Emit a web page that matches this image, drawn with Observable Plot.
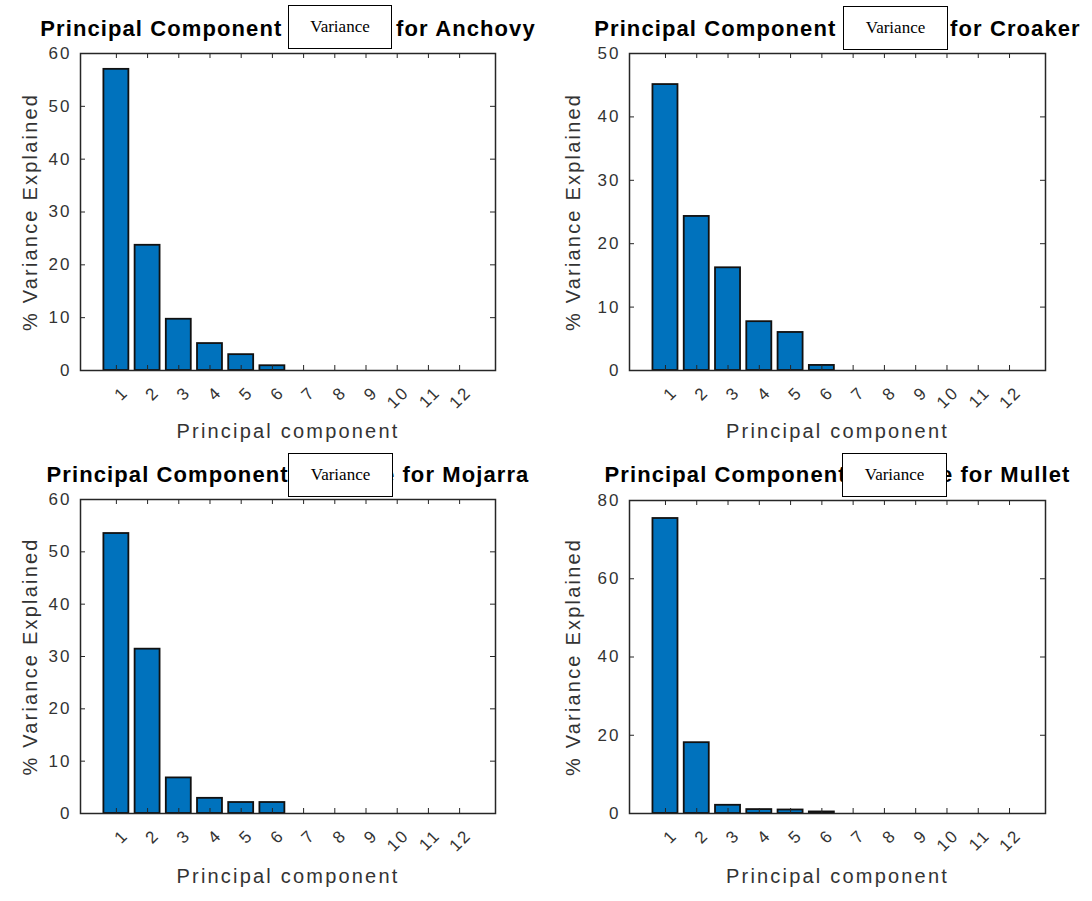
<!DOCTYPE html>
<html>
<head>
<meta charset="utf-8">
<script src="https://cdn.jsdelivr.net/npm/d3@7"></script>
<script src="https://cdn.jsdelivr.net/npm/@observablehq/plot@0.6"></script>
<style>
  html, body { margin: 0; padding: 0; background: #fff; }
  #wrap { position: relative; width: 1092px; height: 901px; overflow: hidden; background: #fff; }
  .panel { position: absolute; }
  .vbox { position: absolute; background: #fff; border: 1px solid #000; box-sizing: border-box;
          font-family: "Liberation Serif", "Times New Roman", serif; font-size: 17px; color: #000;
          display: flex; align-items: center; justify-content: center; }
  g[aria-label="x-axis tick label"] text, g[aria-label="y-axis tick label"] text { letter-spacing: 2px; }
</style>
</head>
<body>
<div id="wrap"></div>
<script>
// ---- data ----
const components = [1, 2, 3, 4, 5, 6, 7, 8, 9, 10, 11, 12];
const species = ["Anchovy", "Croaker", "Mojarra", "Mullet"];
const anchovy = [57.0, 23.7, 9.7, 5.1, 3.0, 0.9, 0, 0, 0, 0, 0, 0];
const croaker = [45.1, 24.3, 16.2, 7.7, 6.0, 0.8, 0, 0, 0, 0, 0, 0];
const mojarra = [53.5, 31.4, 6.8, 2.9, 2.1, 2.1, 0, 0, 0, 0, 0, 0];
const mullet  = [75.4, 18.1, 2.1, 1.0, 0.9, 0.4, 0, 0, 0, 0, 0, 0];
const yTicksAnchovy = [0, 10, 20, 30, 40, 50, 60];
const yTicksCroaker = [0, 10, 20, 30, 40, 50];
const yTicksMojarra = [0, 10, 20, 30, 40, 50, 60];
const yTicksMullet  = [0, 20, 40, 60, 80];
const titlePrefix = "Principal Component Variance for ";
const boxText = "Variance";
const yLabel = "% Variance Explained";
const xLabel = "Principal component";

// ---- layout ----
const panels = [
  {name: species[0], values: anchovy, yTicks: yTicksAnchovy, left: 0,   top: 0,   w: 546, h: 450, mL: 80, mR: 51, mT: 53, mB: 80, titleDy: -33, yDx: -50, xDy: 67, box: [288, 5, 104, 44]},
  {name: species[1], values: croaker, yTicks: yTicksCroaker, left: 546, top: 0,   w: 546, h: 450, mL: 83, mR: 47, mT: 53, mB: 80, titleDy: -33, yDx: -56, xDy: 67, box: [843, 6, 105, 44]},
  {name: species[2], values: mojarra, yTicks: yTicksMojarra, left: 0,   top: 450, w: 546, h: 451, mL: 80, mR: 51, mT: 49, mB: 88, titleDy: -33, yDx: -50, xDy: 69, box: [288, 453, 105, 44]},
  {name: species[3], values: mullet,  yTicks: yTicksMullet,  left: 546, top: 450, w: 546, h: 451, mL: 83, mR: 47, mT: 50, mB: 88, titleDy: -34, yDx: -56, xDy: 69, box: [842, 453, 105, 44]}
];

const wrap = document.getElementById("wrap");
const ink = "#262626";

for (const p of panels) {
  const data = components.map((c, i) => ({pc: c, v: p.values[i]}));
  const innerW = p.w - p.mL - p.mR;
  const innerH = p.h - p.mT - p.mB;
  const ymax = p.yTicks[p.yTicks.length - 1];
  const svg = Plot.plot({
    width: p.w, height: p.h,
    marginLeft: p.mL, marginRight: p.mR, marginTop: p.mT, marginBottom: p.mB,
    style: {fontFamily: "'Liberation Sans', Arial, Helvetica, sans-serif", fontSize: "17px", color: "#333", background: "#fff"},
    x: {type: "linear", domain: [-0.15, 13.15]},
    y: {type: "linear", domain: [0, ymax]},
    marks: [
      Plot.rectY(data, {x1: d => d.pc - 0.4, x2: d => d.pc + 0.4, y1: 0, y2: "v", fill: "#0072BD", stroke: "#111", strokeWidth: 1.8}),
      Plot.tickX(components, {x: d => d, insetTop: innerH - 5, stroke: ink}),
      Plot.tickX(components, {x: d => d, insetBottom: innerH - 5, stroke: ink}),
      Plot.tickY(p.yTicks, {y: d => d, insetRight: innerW - 5, stroke: ink}),
      Plot.tickY(p.yTicks, {y: d => d, insetLeft: innerW - 5, stroke: ink}),
      Plot.frame({stroke: ink, strokeWidth: 1.5}),
      Plot.axisY({ticks: p.yTicks, tickSize: 0, tickPadding: 9, fontSize: 17, label: null, tickFormat: d => String(d)}),
      Plot.axisX({ticks: components, tickSize: 0, tickPadding: 19, tickRotate: -45, dx: 9, fontSize: 17, label: null, tickFormat: d => String(d)}),
      Plot.text([titlePrefix + p.name], {text: d => d, frameAnchor: "top", textAnchor: "middle", dy: p.titleDy, fontSize: 22, fontWeight: "bold", fill: "#000"}),
      Plot.text([yLabel], {text: d => d, frameAnchor: "left", textAnchor: "middle", rotate: -90, dx: p.yDx, fontSize: 20, fill: "#333"}),
      Plot.text([xLabel], {text: d => d, frameAnchor: "bottom", textAnchor: "middle", dy: p.xDy, fontSize: 20, fill: "#333"})
    ]
  });
  // letter spacing to mimic the wide tracking of the original rendering
  d3.select(svg).selectAll('g[aria-label="text"] text').each(function() {
    const t = this.textContent;
    if (t.startsWith(titlePrefix)) this.style.letterSpacing = "1.1px";
    else this.style.letterSpacing = "2.2px";
  });
  const div = document.createElement("div");
  div.className = "panel";
  div.style.left = p.left + "px";
  div.style.top = p.top + "px";
  div.appendChild(svg);
  wrap.appendChild(div);

  const b = document.createElement("div");
  b.className = "vbox";
  b.style.left = p.box[0] + "px";
  b.style.top = p.box[1] + "px";
  b.style.width = p.box[2] + "px";
  b.style.height = p.box[3] + "px";
  b.textContent = boxText;
  wrap.appendChild(b);
}
</script>
</body>
</html>
